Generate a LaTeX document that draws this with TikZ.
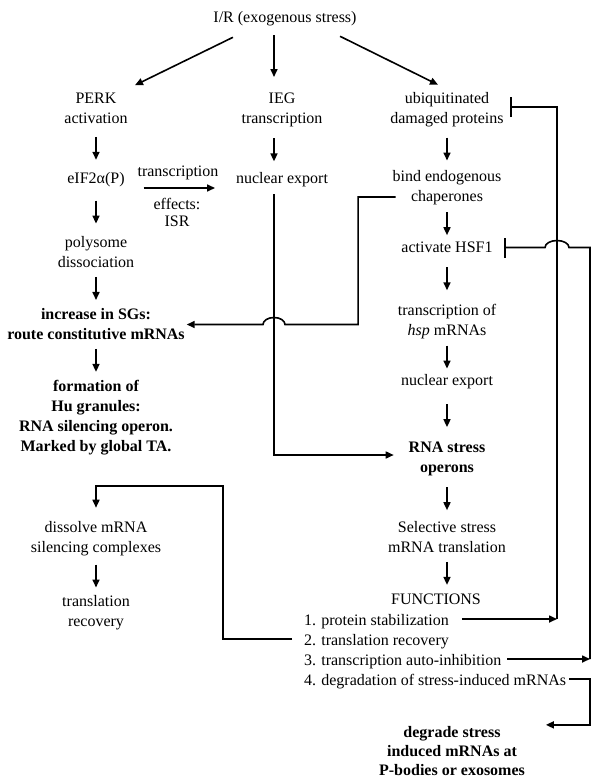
\documentclass[tikz,border=0pt]{standalone}
\usepackage{fontspec}
\setmainfont{Liberation Serif}
\usetikzlibrary{arrows.meta,calc}
\newcommand\vconn[2]{\draw[arr] ($(#1.south)!0.5!(#1.south |- #2.north)+(0,-11.5)$) -- ++(0,23);}
\begin{document}
\begin{tikzpicture}[x=1pt,y=-1pt,
  txt/.style={inner sep=0pt,outer sep=0pt,align=center,font=\fontsize{16}{20}\selectfont},
  btxt/.style={txt,font=\fontsize{16}{20}\selectfont\bfseries},
  ltxt/.style={inner sep=0pt,outer sep=0pt,font=\fontsize{16}{20}\selectfont,anchor=base west},
  arr/.style={line width=1.6pt,-{Triangle[length=8pt,width=7pt]}},
  inh/.style={line width=1.6pt,-{Bar[width=20pt]}}]
\useasboundingbox (0,0) rectangle (602,782);
% nodes
\node[txt] (title) at (285,19) {I/R (exogenous stress)};
\node[txt] (perk) at (96,108.5) {PERK\\activation};
\node[txt] (ieg) at (282,110) {IEG\\transcription};
\node[txt] (ubiq) at (447,110) {ubiquitinated\\damaged proteins};
\node[txt] (eif) at (96,180) {eIF2α(P)};
\node[txt] (tlab) at (178,173) {transcription};
\node[txt,font=\fontsize{16}{17}\selectfont] (isr) at (177,212) {effects:\\ISR};
\node[txt] (nexp1) at (282,180) {nuclear export};
\node[txt] (bind) at (447,188) {bind endogenous\\chaperones};
\node[txt] (poly) at (96,252.5) {polysome\\dissociation};
\node[txt] (hsf) at (447,247.5) {activate HSF1};
\node[btxt] (incr) at (96,324.5) {increase in SGs:\\route constitutive mRNAs};
\node[txt] (tof) at (447,322) {transcription of\\\textit{hsp} mRNAs};
\node[txt] (nexp2) at (447,382) {nuclear export};
\node[btxt] (form) at (96,418) {formation of\\Hu granules:\\RNA silencing operon.\\Marked by global TA.};
\node[btxt] (rso) at (447,459) {RNA stress\\operons};
\node[txt] (sel) at (447,537) {Selective stress\\mRNA translation};
\node[txt] (diss) at (96,539) {dissolve mRNA\\silencing complexes};
\node[txt] (func) at (436,599.5) {FUNCTIONS};
\node[txt] (trec) at (96,613) {translation\\recovery};
\node[ltxt] (f1) at (304,625) {1. protein stabilization};
\node[ltxt] (f2) at (304,645) {2. translation recovery};
\node[ltxt] (f3) at (304,665) {3. transcription auto-inhibition};
\node[ltxt] (f4) at (304,685) {4. degradation of stress-induced mRNAs};
\node[txt,font=\fontsize{16}{19}\selectfont\bfseries] (degr) at (452,751.5) {degrade stress\\induced mRNAs at\\P-bodies or exosomes};
% helper coordinates
\coordinate (vx) at ([xshift=-8pt]ieg.south);
\coordinate (rx1) at (557,0);
\coordinate (rx2) at (590,0);
% title arrows
\draw[arr] ([xshift=-52pt,yshift=-11pt]title.south) -- ([xshift=39pt,yshift=8pt]perk.north);
\draw[arr] ($(vx |- title.south)+(0,9)$) -- ($(vx |- ieg.north)+(0,-16)$);
\draw[arr] ([xshift=55pt,yshift=-10pt]title.south) -- ([xshift=-9pt,yshift=8pt]ubiq.north);
% vertical arrows
\vconn{perk}{eif}
\vconn{eif}{poly}
\vconn{poly}{incr}
\vconn{incr}{form}
\vconn{diss}{trec}
\vconn{ubiq}{bind}
\vconn{bind}{hsf}
\vconn{hsf}{tof}
\vconn{tof}{nexp2}
\vconn{nexp2}{rso}
\vconn{rso}{sel}
\vconn{sel}{func}
\draw[arr] ($(vx)!0.5!(vx |- nexp1.north)+(0,-11.5)$) -- ++(0,23);
% transcription effects arrow
\draw[arr] ([xshift=19pt,yshift=-8pt]eif.east) -- ([xshift=-21pt,yshift=-8pt]nexp1.west);
% nuclear export -> RNA stress operons
\draw[arr] ($(vx |- nexp1.south)+(0,7)$) |- ([xshift=-15pt,yshift=4pt]rso.west);
% chaperones -> increase in SGs (with jump)
\coordinate (b0) at ([xshift=3pt,yshift=-9pt]bind.west);
\draw[arr] (b0) -- ++(-37.5,0) coordinate (b1) -- (b1 |- incr.east)
  -- ($(vx |- incr.east)+(11,0)$) arc[start angle=0,end angle=180,x radius=11pt,y radius=7pt]
  -- ([xshift=2pt]incr.east);
% 1. protein stabilization -| ubiquitinated
\coordinate (f1r) at ([yshift=6pt]f1.base east);
\coordinate (ub) at ([xshift=6.5pt,yshift=3pt]ubiq.east);
\draw[arr] ([xshift=13pt]f1r) -- (rx1 |- f1r);
\draw[inh] (rx1 |- f1r) -- (rx1 |- ub) -- (ub);
% 3. transcription auto-inhibition -| HSF1
\coordinate (f3r) at ([yshift=6pt]f3.base east);
\coordinate (hb) at ([xshift=11.5pt]hsf.east);
\draw[arr] ([xshift=6pt]f3r) -- (rx2 |- f3r);
\draw[inh] (rx2 |- f3r) -- (rx2 |- hb)
  -- ($(rx1 |- hb)+(12,0)$) arc[start angle=0,end angle=180,x radius=12pt,y radius=7pt]
  -- (hb);
% 2. translation recovery -> dissolve
\coordinate (f2l) at ([xshift=-12pt,yshift=6pt]f2.base west);
\coordinate (d2) at ([yshift=36pt]diss.north);
\draw[arr] (f2l) -- ++(-69,0) coordinate (c2) -- (c2 |- d2) -- (d2) -- ([yshift=14pt]diss.north);
% 4. degradation -> degrade
\coordinate (f4r) at ([xshift=3pt,yshift=6pt]f4.base east);
\coordinate (d4) at ([xshift=21pt,yshift=2pt]degr.north east);
\draw[arr] (f4r) -| (rx2 |- d4) -- (d4);
\end{tikzpicture}
\end{document}
